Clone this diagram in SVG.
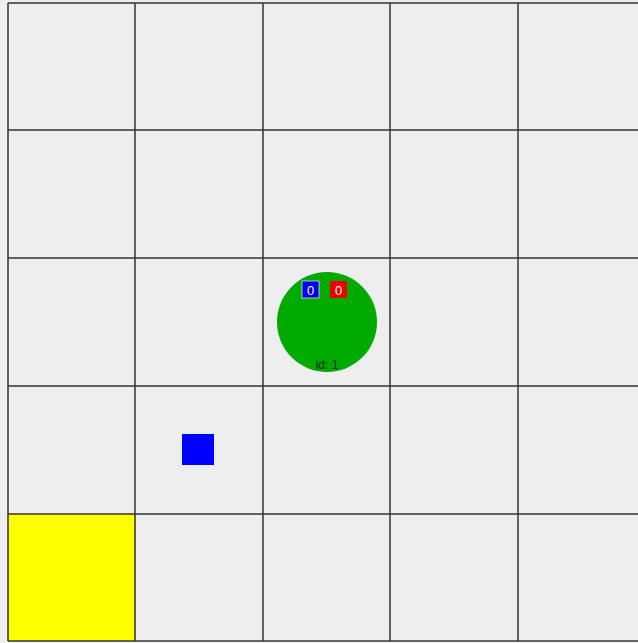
<svg xmlns="http://www.w3.org/2000/svg" width="638" height="643" viewBox="0 0 638 643">
<style>
.bg{fill:#eeeeee}
.grid line{stroke:#333333;stroke-width:1.5}
.lbl{font-family:"Liberation Sans",Arial,sans-serif;font-size:13px;fill:#ffffff;text-anchor:middle}
.id{font-family:"Liberation Sans",Arial,sans-serif;font-size:12px;fill:#222222;text-anchor:middle}
</style>
<rect class="bg" x="0" y="0" width="638" height="643"/>
<g id="goal"><rect x="8" y="514" width="127" height="127" fill="#ffff00"/></g>
<g id="grid" class="grid">
<line x1="8" y1="3" x2="8" y2="641"/>
<line x1="135" y1="3" x2="135" y2="641"/>
<line x1="263" y1="3" x2="263" y2="641"/>
<line x1="390" y1="3" x2="390" y2="641"/>
<line x1="518" y1="3" x2="518" y2="641"/>
<line x1="8" y1="3" x2="638" y2="3"/>
<line x1="8" y1="130" x2="638" y2="130"/>
<line x1="8" y1="258" x2="638" y2="258"/>
<line x1="8" y1="386" x2="638" y2="386"/>
<line x1="8" y1="514" x2="638" y2="514"/>
<line x1="8" y1="641" x2="638" y2="641"/>
</g>
<g id="block"><rect x="182" y="434" width="32" height="31" fill="#0000ff"/></g>
<g id="agent">
<circle cx="327" cy="322" r="50" fill="#00aa00"/>
<rect x="302" y="281" width="17" height="17" fill="#0000ee" stroke="#dddddd" stroke-width="0.8"/>
<text class="lbl" x="310.5" y="295">0</text>
<rect x="330" y="281" width="17" height="17" fill="#ee0000"/>
<text class="lbl" x="338.5" y="295">0</text>
<text class="id" x="327" y="369">id: 1</text>
</g>
</svg>
